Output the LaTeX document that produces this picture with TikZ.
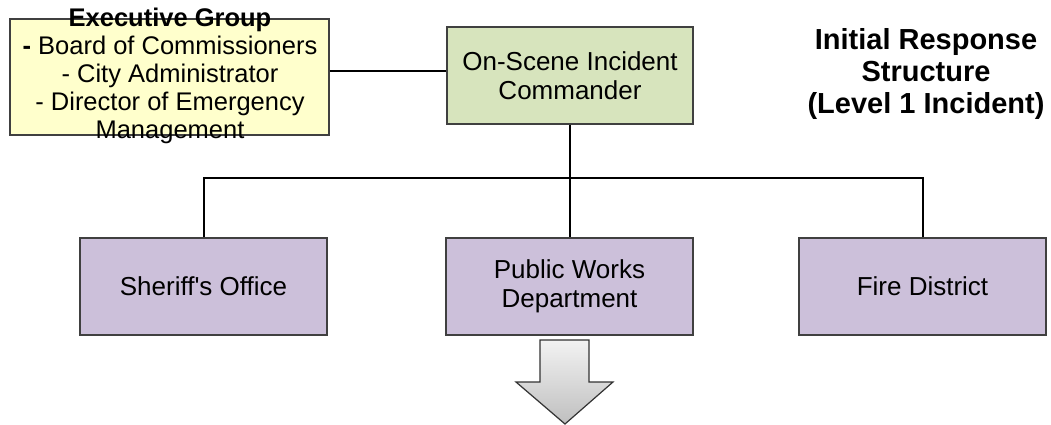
\documentclass[tikz,border=0pt]{standalone}
\usepackage{fontspec}
% a family without TeX ligatures, so that ' stays a straight quote
\newfontfamily\chartfont{Liberation Sans}
\begin{document}
\begin{tikzpicture}[x=1pt,y=-1pt,
  box/.style={draw=black!75, line width=1.2pt, minimum width=247pt, minimum height=97pt,
    inner sep=0pt, align=center, font=\chartfont\fontsize{26}{28.5}\selectfont},
  unit/.style={box, fill=purpleunit},
  link/.style={draw=black, line width=2pt}]
\definecolor{purpleunit}{HTML}{CCC0DA}
\definecolor{greencmd}{HTML}{D7E4BD}
\definecolor{yellowexec}{HTML}{FFFFCC}
\useasboundingbox (0,0) rectangle (1051,425);

% executive group: the box is smaller than its text
\node[box, fill=yellowexec, minimum width=319pt, minimum height=116pt] (exec) at (169.5,77) {};
\node[align=center, inner sep=0pt, font=\chartfont\fontsize{25.5}{28}\selectfont] (exectext) at (170,75.5)
  {\textbf{Executive Group}\\\textbf{-} Board of Commissioners\\- City Administrator\\- Director of Emergency\\Management};

% incident commander
\node[box, fill=greencmd, minimum width=246pt] (cmd) at (570,75.5) {On-Scene Incident\\Commander};

% title
\node[align=center, inner sep=0pt, font=\chartfont\bfseries\fontsize{29}{32}\selectfont] (title) at (926,74)
  {Initial Response\\Structure\\(Level 1 Incident)};

% responding units
\node[unit] (sheriff) at (203.5,286.5) {Sheriff's Office};
\node[unit] (works) at (569.5,286.5) {Public Works\\Department};
\node[unit] (fire) at (922.5,286.5) {Fire District};

% connectors
\coordinate (execjoin) at (0,71);
\coordinate (bus) at (0,178);
\draw[link] (exec.east |- execjoin) -- (cmd.west |- execjoin);
\draw[link] (cmd.south) -- (cmd.south |- works.north);
\draw[link] (sheriff.north) -- (sheriff.north |- bus) -- (fire.north |- bus) -- (fire.north);

% downward block arrow below public works
\shade[top color=white!95!black, bottom color=black!25, draw=black!80, line width=1.2pt]
  (540,340) -- (589,340) -- (589,382) -- (613,382) -- (565,424) -- (516,382) -- (540,382) -- cycle;
\end{tikzpicture}
\end{document}
